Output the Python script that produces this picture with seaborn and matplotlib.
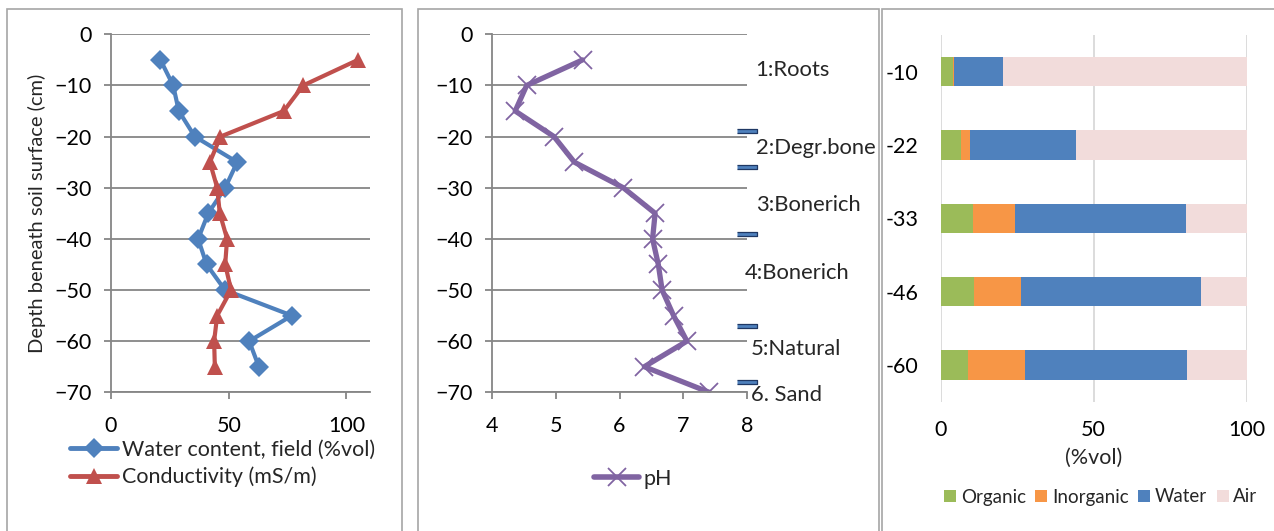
import numpy as np
import matplotlib
matplotlib.use("Agg")
import matplotlib.pyplot as plt
from matplotlib.patches import Rectangle, Patch
from matplotlib.lines import Line2D
import seaborn as sns

# ---- data -------------------------------------------------------------
depth = [-5, -10, -15, -20, -25, -30, -35, -40, -45, -50, -55, -60, -65]
water_content = [21.0, 26.4, 28.8, 35.6, 53.6, 48.5, 41.3, 37.0, 40.6, 48.4, 76.8, 58.7, 62.8]
conductivity = [104.9, 81.6, 73.4, 46.5, 42.0, 45.1, 46.2, 49.3, 48.5, 51.0, 45.1, 43.8, 44.1]

ph_depth = [-5, -10, -15, -20, -25, -30, -35, -40, -45, -50, -55, -60, -65, -70]
ph = [5.42, 4.54, 4.36, 4.97, 5.29, 6.06, 6.56, 6.52, 6.61, 6.67, 6.85, 7.06, 6.39, 7.41]

boundary_depth = [-19, -26, -39, -57, -68]
boundary_ph = [8, 8, 8, 8, 8]
layer_names = ["1:Roots", "2:Degr.bone", "3:Bonerich", "4:Bonerich", "5:Natural", "6. Sand"]
layer_label_depth = [-7.0, -22.2, -33.4, -46.7, -61.6, -70.5]
layer_label_ph = [8.14, 8.14, 8.14, 7.97, 8.06, 8.06]

sample_depths = ["-10", "-22", "-33", "-46", "-60"]
organic = [4.1, 6.5, 10.7, 11.0, 9.0]
inorganic = [0.2, 3.2, 13.5, 15.1, 18.6]
water = [16.2, 34.6, 56.0, 59.0, 52.8]
air = [79.5, 55.7, 19.8, 14.9, 19.6]
fraction_names = ["Organic", "Inorganic", "Water", "Air"]

# ---- style ------------------------------------------------------------
sns.set_theme(style="white")
plt.rcParams["font.family"] = ["Lato", "DejaVu Sans"]

FS = 15.5
GRID = "#868686"
BLUE, RED, PURPLE = "#4F81BD", "#C0504D", "#8064A2"
FRACTION_COLORS = ["#9BBB59", "#F79646", "#4F81BD", "#F2DCDB"]

W, H = 1274, 531
fig = plt.figure(figsize=(W / 100, H / 100), dpi=100)


def rect(x0, y0, x1, y1):
    return [x0 / W, 1 - y1 / H, (x1 - x0) / W, (y1 - y0) / H]


# panel frames
for x0, x1 in [(7.3, 402.3), (418, 879), (881.7, 1290)]:
    fig.add_artist(Rectangle((x0 / W, -0.05), (x1 - x0) / W, 1 - 9.3 / H + 0.05,
                             transform=fig.transFigure, fill=False,
                             edgecolor="#A6A6A6", lw=1.2))


def style_depth_axes(ax):
    ax.set_ylim(-70, 0)
    ax.set_yticks(range(-70, 1, 10))
    ax.grid(axis="y", color=GRID, lw=1.3)
    ax.grid(axis="x", visible=False)
    for s in ["top", "right"]:
        ax.spines[s].set_visible(False)
    for s in ["left", "bottom"]:
        ax.spines[s].set_color(GRID)
        ax.spines[s].set_linewidth(1.3)
    ax.tick_params(axis="both", direction="out", length=5, width=1.3, color=GRID,
                   labelsize=FS, labelcolor="black", bottom=True, left=True)
    ax.tick_params(axis="y", pad=9)
    ax.tick_params(axis="x", pad=12)
    ax.set_xlabel("")


# ---- panel 1: water content and conductivity --------------------------
ax1 = fig.add_axes(rect(111, 34.3, 370, 392.3))
sns.lineplot(x=water_content, y=depth, sort=False, estimator=None, ax=ax1,
             color=BLUE, linewidth=3.0, marker="D", markersize=10, markeredgewidth=0)
sns.lineplot(x=conductivity, y=depth, sort=False, estimator=None, ax=ax1,
             color=RED, linewidth=3.0, marker="^", markersize=12, markeredgewidth=0)
ax1.set_xlim(0, 110)
ax1.set_xticks([0, 50, 100])
style_depth_axes(ax1)
ax1.set_ylabel("Depth beneath soil surface (cm)", fontsize=14.5, labelpad=6)
ax1.legend(handles=[
    Line2D([], [], color=BLUE, lw=3.5, marker="D", markersize=10, markeredgewidth=0),
    Line2D([], [], color=RED, lw=3.5, marker="^", markersize=12, markeredgewidth=0)],
    labels=["Water content, field (%vol)", "Conductivity (mS/m)"],
    loc="upper left", bbox_to_anchor=(70 / W, 1 - 440 / H), bbox_transform=fig.transFigure,
    frameon=False, fontsize=FS, borderpad=0, borderaxespad=0, handlelength=2.2,
    handletextpad=0.2, labelspacing=0.3)

# ---- panel 2: pH ------------------------------------------------------
ax2 = fig.add_axes(rect(492.3, 34.3, 746.7, 392.3))
sns.lineplot(x=ph, y=ph_depth, sort=False, estimator=None, ax=ax2,
             color=PURPLE, linewidth=3.8, marker="x", markersize=13,
             markeredgewidth=1.3, markeredgecolor=PURPLE)
ax2.scatter(boundary_ph, boundary_depth, marker=[(-1, -0.22), (1, -0.22), (1, 0.22), (-1, 0.22)],
            s=190, facecolor=BLUE, edgecolor="#1F3864", linewidth=0.9, zorder=5, clip_on=False)
ax2.set_xlim(4, 8)
ax2.set_xticks([4, 5, 6, 7, 8])
style_depth_axes(ax2)
ax2.set_ylabel("")
for name, d, p in zip(layer_names, layer_label_depth, layer_label_ph):
    ax2.text(p, d, name, fontsize=15.8, va="center", ha="left", clip_on=False)
ax2.legend(handles=[Line2D([], [], color=PURPLE, lw=4, marker="x", markersize=13,
                           markeredgewidth=1.3, markeredgecolor=PURPLE)],
           labels=["pH"], loc="center left", bbox_to_anchor=(594 / W, 1 - 479 / H),
           bbox_transform=fig.transFigure, frameon=False, fontsize=FS, borderpad=0,
           borderaxespad=0, handlelength=2.1, handletextpad=0.2)

# ---- panel 3: volume fractions (stacked horizontal bars) --------------
ax3 = fig.add_axes(rect(940.7, 35, 1246.7, 401.7))
stack = np.cumsum([organic, inorganic, water, air], axis=0)
for total, color in reversed(list(zip(stack, FRACTION_COLORS))):
    sns.barplot(x=total, y=sample_depths, order=sample_depths, orient="h", color=color,
                saturation=1, width=0.4, linewidth=0, ax=ax3, zorder=3)
ax3.set_xlim(0, 100)
ax3.set_xticks([0, 50, 100])
ax3.grid(axis="x", color="#D9D9D9", lw=1.3, zorder=0)
ax3.grid(axis="y", visible=False)
for s in ax3.spines.values():
    s.set_visible(False)
ax3.tick_params(axis="both", length=0, labelsize=FS, labelcolor="black")
ax3.tick_params(axis="y", pad=16)
ax3.tick_params(axis="x", pad=13)
ax3.set_ylabel("")
ax3.set_xlabel("(%vol)", fontsize=FS, labelpad=6)
ax3.legend(handles=[Patch(facecolor=c, edgecolor="none") for c in FRACTION_COLORS],
           labels=fraction_names, loc="center left", bbox_to_anchor=(944 / W, 1 - 497 / H),
           bbox_transform=fig.transFigure, frameon=False, fontsize=13.5, ncol=4,
           borderpad=0, borderaxespad=0, handlelength=0.65, handleheight=0.65,
           handletextpad=0.25, columnspacing=0.5)

fig.savefig("out.png", dpi=100)
